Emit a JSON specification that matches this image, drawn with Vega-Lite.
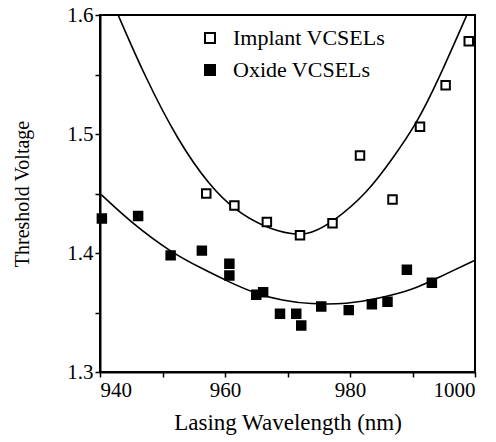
{
  "$schema": "https://vega.github.io/schema/vega-lite/v6.json",
  "width": 375,
  "height": 357,
  "autosize": {"type": "none"},
  "padding": {"left": 100, "top": 15, "right": 21, "bottom": 70},
  "background": "white",
  "config": {
    "view": {"stroke": "black", "strokeWidth": 2},
    "font": "Liberation Serif",
    "axis": {
      "grid": false,
      "domainColor": "black",
      "domainWidth": 2,
      "tickColor": "black",
      "tickWidth": 1.5,
      "tickSize": 5,
      "labelFont": "Liberation Serif",
      "labelFontSize": 21,
      "labelColor": "black",
      "titleFont": "Liberation Serif",
      "titleFontSize": 21,
      "titleFontWeight": "normal",
      "titleColor": "black"
    }
  },
  "datasets": {
    "points": [
      {"series": "Implant VCSELs", "wavelength": 957.0, "voltage": 1.450},
      {"series": "Implant VCSELs", "wavelength": 961.5, "voltage": 1.440},
      {"series": "Implant VCSELs", "wavelength": 966.7, "voltage": 1.426},
      {"series": "Implant VCSELs", "wavelength": 972.0, "voltage": 1.415},
      {"series": "Implant VCSELs", "wavelength": 977.2, "voltage": 1.425},
      {"series": "Implant VCSELs", "wavelength": 981.6, "voltage": 1.482},
      {"series": "Implant VCSELs", "wavelength": 986.8, "voltage": 1.445},
      {"series": "Implant VCSELs", "wavelength": 991.2, "voltage": 1.506},
      {"series": "Implant VCSELs", "wavelength": 995.3, "voltage": 1.541},
      {"series": "Implant VCSELs", "wavelength": 999.0, "voltage": 1.578},
      {"series": "Oxide VCSELs", "wavelength": 940.3, "voltage": 1.429},
      {"series": "Oxide VCSELs", "wavelength": 946.1, "voltage": 1.431},
      {"series": "Oxide VCSELs", "wavelength": 951.3, "voltage": 1.398},
      {"series": "Oxide VCSELs", "wavelength": 956.3, "voltage": 1.402},
      {"series": "Oxide VCSELs", "wavelength": 960.7, "voltage": 1.391},
      {"series": "Oxide VCSELs", "wavelength": 960.7, "voltage": 1.381},
      {"series": "Oxide VCSELs", "wavelength": 965.0, "voltage": 1.365},
      {"series": "Oxide VCSELs", "wavelength": 966.1, "voltage": 1.367},
      {"series": "Oxide VCSELs", "wavelength": 968.8, "voltage": 1.349},
      {"series": "Oxide VCSELs", "wavelength": 971.4, "voltage": 1.349},
      {"series": "Oxide VCSELs", "wavelength": 972.2, "voltage": 1.339},
      {"series": "Oxide VCSELs", "wavelength": 975.4, "voltage": 1.355},
      {"series": "Oxide VCSELs", "wavelength": 979.8, "voltage": 1.352},
      {"series": "Oxide VCSELs", "wavelength": 983.5, "voltage": 1.357},
      {"series": "Oxide VCSELs", "wavelength": 986.0, "voltage": 1.359},
      {"series": "Oxide VCSELs", "wavelength": 989.1, "voltage": 1.386},
      {"series": "Oxide VCSELs", "wavelength": 993.1, "voltage": 1.375}
    ],
    "curves": [
      {"curve": "implant", "wavelength": 942.9, "voltage": 1.600},
      {"curve": "implant", "wavelength": 947.2, "voltage": 1.548},
      {"curve": "implant", "wavelength": 952.5, "voltage": 1.494},
      {"curve": "implant", "wavelength": 957.6, "voltage": 1.456},
      {"curve": "implant", "wavelength": 961.6, "voltage": 1.436},
      {"curve": "implant", "wavelength": 966.1, "voltage": 1.422},
      {"curve": "implant", "wavelength": 971.0, "voltage": 1.415},
      {"curve": "implant", "wavelength": 973.6, "voltage": 1.416},
      {"curve": "implant", "wavelength": 977.3, "voltage": 1.426},
      {"curve": "implant", "wavelength": 982.7, "voltage": 1.450},
      {"curve": "implant", "wavelength": 986.9, "voltage": 1.480},
      {"curve": "implant", "wavelength": 990.7, "voltage": 1.509},
      {"curve": "implant", "wavelength": 994.1, "voltage": 1.545},
      {"curve": "implant", "wavelength": 998.7, "voltage": 1.600},
      {"curve": "oxide", "wavelength": 940.2, "voltage": 1.449},
      {"curve": "oxide", "wavelength": 945.1, "voltage": 1.425},
      {"curve": "oxide", "wavelength": 951.5, "voltage": 1.400},
      {"curve": "oxide", "wavelength": 956.3, "voltage": 1.387},
      {"curve": "oxide", "wavelength": 960.5, "voltage": 1.376},
      {"curve": "oxide", "wavelength": 964.8, "voltage": 1.366},
      {"curve": "oxide", "wavelength": 969.2, "voltage": 1.360},
      {"curve": "oxide", "wavelength": 973.6, "voltage": 1.357},
      {"curve": "oxide", "wavelength": 979.5, "voltage": 1.357},
      {"curve": "oxide", "wavelength": 984.8, "voltage": 1.362},
      {"curve": "oxide", "wavelength": 990.1, "voltage": 1.369},
      {"curve": "oxide", "wavelength": 994.4, "voltage": 1.380},
      {"curve": "oxide", "wavelength": 1000.0, "voltage": 1.394}
    ]
  },
  "layer": [
    {
      "data": {"name": "curves"},
      "mark": {"type": "line", "color": "black", "strokeWidth": 1.6, "interpolate": "basis", "clip": true},
      "encoding": {
        "x": {"field": "wavelength", "type": "quantitative"},
        "y": {"field": "voltage", "type": "quantitative"},
        "detail": {"field": "curve"}
      }
    },
    {
      "data": {"name": "points"},
      "mark": {"type": "point", "shape": "square", "filled": false, "stroke": "black", "strokeWidth": 2, "size": 72, "opacity": 1},
      "encoding": {
        "x": {
          "field": "wavelength", "type": "quantitative",
          "scale": {"domain": [940, 1000], "nice": false, "zero": false},
          "axis": {
            "title": "Lasing Wavelength (nm)",
            "titleFontSize": 23,
            "values": [940, 950, 960, 970, 980, 990, 1000],
            "format": "d",
            "labelExpr": "datum.value % 20 == 0 ? datum.label : ''",
            "labelPadding": 2,
            "titlePadding": 11
          }
        },
        "y": {
          "field": "voltage", "type": "quantitative",
          "scale": {"domain": [1.3, 1.6], "nice": false, "zero": false},
          "axis": {
            "title": "Threshold Voltage",
            "titleFontSize": 20,
            "values": [1.3, 1.35, 1.4, 1.45, 1.5, 1.55, 1.6],
            "labelExpr": "round(datum.value * 100) % 10 == 0 ? format(datum.value, '.1f') : ''",
            "labelPadding": 2,
            "titlePadding": 34
          }
        },
        "fill": {
          "field": "series", "type": "nominal",
          "scale": {"domain": ["Implant VCSELs", "Oxide VCSELs"], "range": ["white", "black"]},
          "legend": {
            "title": null,
            "orient": "none",
            "legendX": 99,
            "legendY": 12,
            "symbolType": "square",
            "symbolSize": 100,
            "symbolStrokeColor": "black",
            "symbolStrokeWidth": 2,
            "labelFont": "Liberation Serif",
            "labelFontSize": 22,
            "labelColor": "black",
            "labelOffset": 12,
            "rowPadding": 10
          }
        }
      }
    }
  ]
}
